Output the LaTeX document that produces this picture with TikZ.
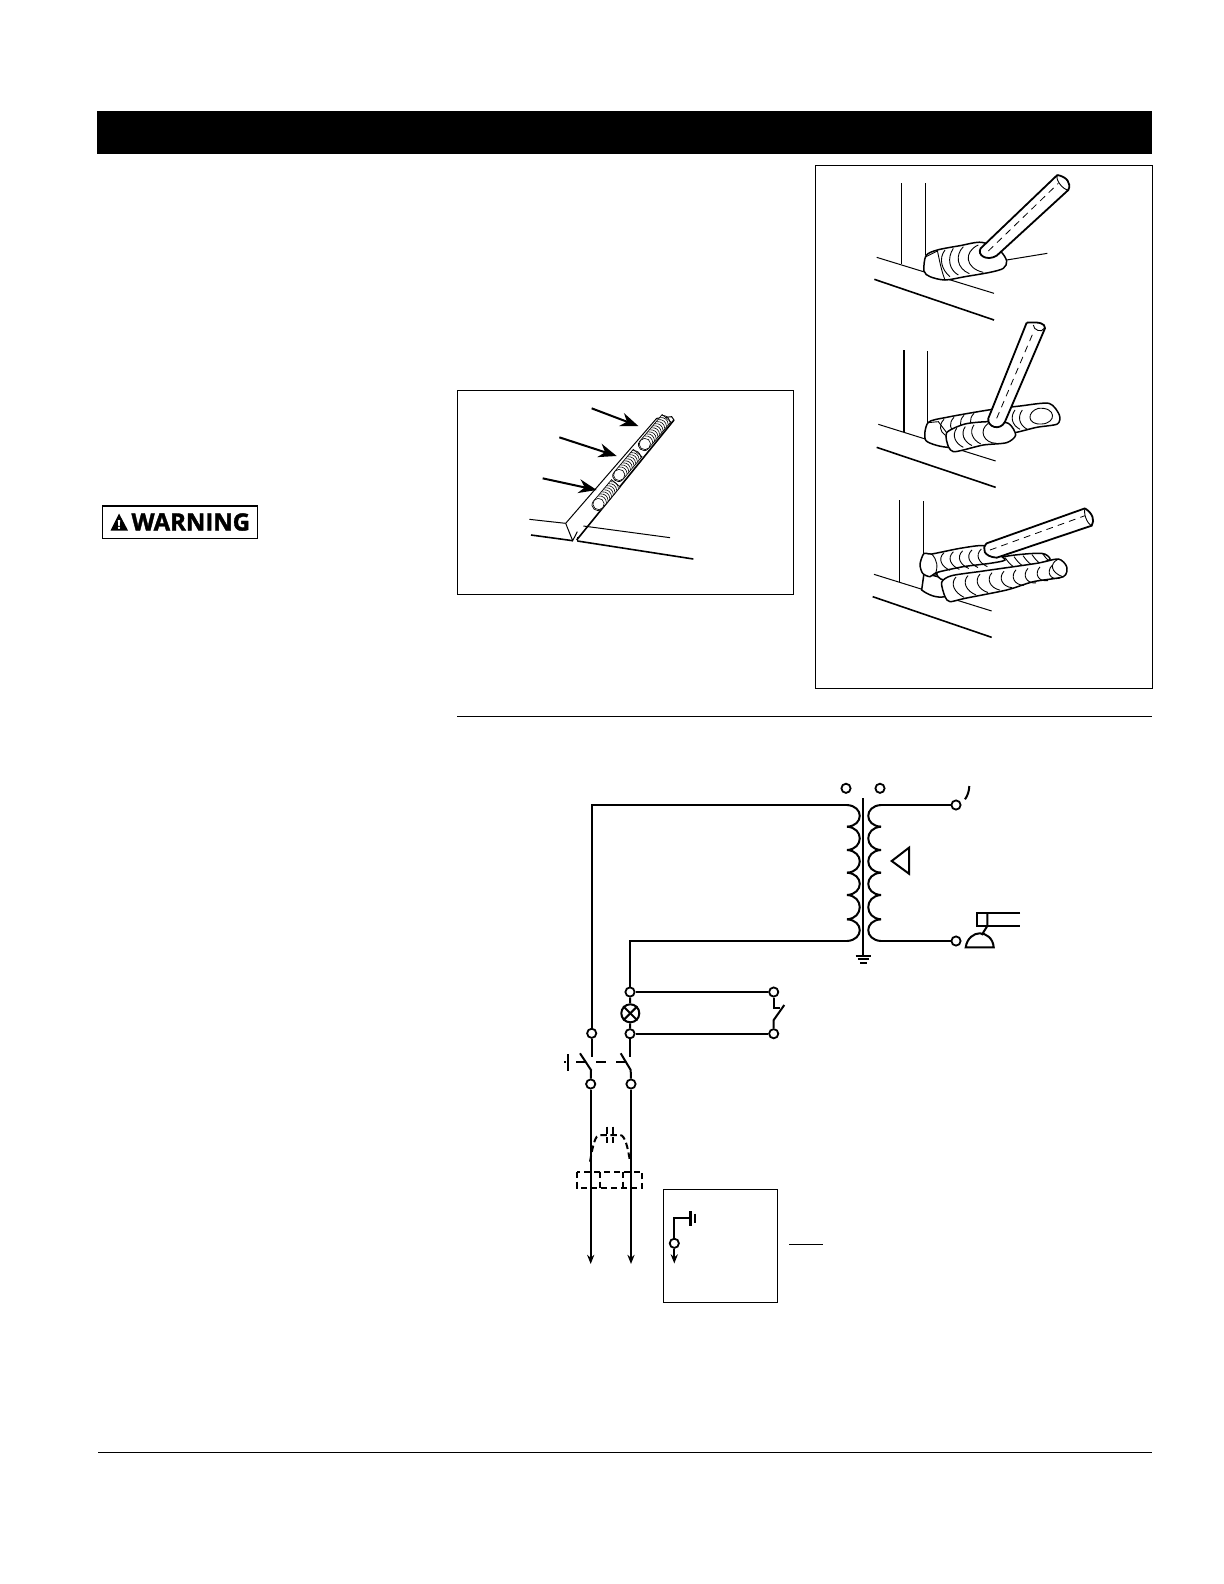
\documentclass[tikz,border=0pt]{standalone}
\usepackage{fontspec}
\setsansfont[BoldFeatures={FakeBold=1.6}]{Open Sans}
\usetikzlibrary{arrows.meta,positioning,calc}
\tikzset{
  every picture/.style={line width=0.5bp},
  wire/.style={line width=1bp},
  thinline/.style={line width=0.5bp},
  heavyline/.style={line width=0.8bp},
  dashwire/.style={line width=1bp, dash pattern=on 3.2bp off 1.8bp},
  terminal/.style={draw, circle, fill=white, line width=0.9bp, inner sep=0pt, minimum size=4.6bp},
  lamp/.style={draw, circle, fill=white, line width=1bp, inner sep=0pt, minimum size=9bp},
  frame/.style={draw, line width=0.5bp, minimum width=0pt},
  bead/.style={draw, fill=white, line width=0.75bp},
  stripbead/.style={draw, fill=white, line width=0.35bp},
  ripple/.style={line width=0.45bp},
  stripripple/.style={line width=0.3bp},
  rod/.style={draw, fill=white, line width=0.9bp},
  rodcore/.style={line width=0.4bp, dash pattern=on 3.4bp off 2.6bp},
  tiparrow/.style={-{Stealth[length=4.6bp,width=3.6bp]}, line width=1bp},
  bigarrow/.style={-{Stealth[length=9bp,width=7bp]}, line width=1bp}
}
% bead on the strip: centre, length
\newcommand{\StripBead}[3]{
  \begin{scope}[shift={(#1,#2)},rotate=50]
    \draw[stripbead] (0,-17) -- (#3,-17) -- (#3,17) -- (0,17) .. controls (-22,17) and (-22,-17) .. (0,-17);
    \foreach \i in {22,30,...,#3}
      \draw[stripripple] (\i,-16) .. controls (\i+10,-6) and (\i+10,6) .. (\i,16);
    \draw[stripripple, fill=white] (4,0) ellipse (17 and 17);
  \end{scope}
}
\begin{document}
\begin{tikzpicture}[x=0.5bp, y=-0.5bp]
  \useasboundingbox (0,0) rectangle (1224,1584);
  \fill[white] (0,0) rectangle (1224,1584);

  % page furniture
  \fill[black] (97,111) rectangle (1152.3,154);
  \draw[thinline] (457,716.5) -- (1152.3,716.5);
  \draw[thinline] (98,1452.3) -- (1152.3,1452.3);
  \draw[frame] (457.7,390) rectangle (793.3,594);
  \draw[frame] (815.5,165.5) rectangle (1152.3,688.3);

  % warning label
  \draw[line width=0.6bp] (102.3,506) rectangle (257.7,538.3);
  \fill[black] (110.5,530.5) -- (119,513.5) -- (128,530.5) -- cycle;
  \node[white, font=\sffamily\bfseries\fontsize{6}{6}\selectfont, inner sep=0pt] (warnmark) at (119,524.5) {!};
  \node[font=\sffamily\bfseries\fontsize{12}{12}\selectfont, inner sep=0pt, anchor=west] (warntext) at (131,522) {WARNING};

  % strip weld
  \begin{scope}[shift={(500,390)},scale=1/3]
    \draw[thinline] (88,388) -- (197,400);
    \draw[heavyline] (93,435) -- (218,452);
    \draw[thinline] (250,408) -- (510,443);
    \draw[heavyline] (232,453) -- (580,507);
    \draw[thinline] (197,400) -- (470,85) -- (515,80) -- (522,90);
    \draw[heavyline] (522,90) -- (230,450);
    \draw[thinline] (197,400) -- (218,452) -- (232,425);
    \draw[thinline] (232,453) -- (232,440);
    \StripBead{293}{345}{85}
    \StripBead{355}{258}{90}
    \StripBead{432}{165}{105}
    \draw[bigarrow] (275,55) -- (415,108);
    \draw[bigarrow] (178,142) -- (350,198);
    \draw[bigarrow] (128,265) -- (290,300);
  \end{scope}

  % first pass
  \begin{scope}[shift={(850,165)},scale=1/3]
    \draw[thinline] (155,55) -- (155,298);
    \draw[thinline] (226,55) -- (226,270);
    \draw[thinline] (80,277) -- (432,385);
    \draw[heavyline] (73,343) -- (432,465);
    \draw[thinline] (470,285) -- (592,265);
    \draw[bead] plot[smooth cycle, tension=.5] coordinates {(222,318) (228,272) (262,255) (330,242) (395,232) (450,258) (470,288) (460,310) (420,322) (345,335) (285,345) (240,335)};
    \draw[ripple] (262,256) .. controls (268,285) and (275,320) .. (285,345);
    \draw[ripple] (228,275) -- (262,258);
    \draw[ripple] (285,255) .. controls (265,280) and (275,315) .. (300,335);
    \draw[ripple] (310,250) .. controls (290,280) and (298,315) .. (325,330);
    \draw[ripple] (340,245) .. controls (315,270) and (320,310) .. (358,326);
    \draw[ripple] (385,240) .. controls (340,260) and (345,310) .. (400,322);
    \draw[rod] (622,30) -- (392,250) .. controls (380,270) and (410,290) .. (440,272) -- (655,75) .. controls (665,55) and (650,35) .. (622,30);
    \draw[ripple] (622,30) .. controls (615,45) and (640,75) .. (655,75);
    \draw[rodcore] (415,258) -- (625,55);
  \end{scope}

  % second pass
  \begin{scope}[shift={(850,310)},scale=1/3]
    \draw[heavyline] (162,120) -- (162,365);
    \draw[thinline] (232,123) -- (232,340);
    \draw[thinline] (85,343) -- (437,453);
    \draw[heavyline] (80,412) -- (437,532);
    \draw[bead] plot[smooth cycle, tension=.45] coordinates {(228,392) (234,338) (290,322) (415,300) (510,288) (597,280) (628,315) (622,342) (560,352) (495,368) (400,385) (300,412)};
    \foreach \i in {0,30,60,90}
      \draw[ripple] (282+\i,328-\i*.2) .. controls (265+\i,345-\i*.2) and (270+\i,365-\i*.2) .. (285+\i,375-\i*.2);
    \foreach \i in {0,22}
      \draw[ripple] (495+\i,300) .. controls (480+\i,320) and (485+\i,345) .. (510+\i,358);
    \draw[ripple] (565,295) .. controls (530,305) and (530,345) .. (575,342) .. controls (620,340) and (620,290) .. (565,295);
    \draw[ripple] (234,338) -- (265,335) -- (290,368);
    \draw[bead] plot[smooth cycle, tension=.45] coordinates {(290,368) (345,342) (415,335) (475,340) (497,375) (470,398) (400,405) (340,420) (310,425) (295,410)};
    \foreach \i in {0,26,52}
      \draw[ripple] (320+\i,355-\i*.2) .. controls (305+\i,375-\i*.2) and (315+\i,400-\i*.2) .. (340+\i,412-\i*.2);
    \draw[ripple] (415,340) .. controls (385,360) and (400,400) .. (440,400);
    \draw[rod] (530,38) -- (415,325) .. controls (410,350) and (450,365) .. (465,335) -- (585,55) .. controls (585,40) and (570,35) .. (530,38);
    \draw[ripple] (550,45) .. controls (550,60) and (575,70) .. (583,55);
    \draw[rodcore] (440,325) -- (553,60);
  \end{scope}

  % third pass
  \begin{scope}[shift={(850,485)},scale=1/3]
    \draw[thinline] (148,45) -- (148,290);
    \draw[thinline] (220,48) -- (220,210);
    \draw[thinline] (72,268) -- (425,378);
    \draw[heavyline] (68,335) -- (425,457);
    \draw[bead] (222,265) -- (215,315) .. controls (235,330) and (260,340) .. (285,335) -- (285,280) -- cycle;
    \draw[bead] plot[smooth cycle, tension=.45] coordinates {(262,262) (340,240) (480,212) (575,205) (600,222) (570,235) (480,255) (350,275) (280,285)};
    \foreach \i in {0,30,60,90,125}
      \draw[ripple] (465+\i*.9,218-\i*.1) .. controls (472+\i*.9,228-\i*.1) and (478+\i*.9,236-\i*.1) .. (490+\i*.9,245-\i*.1);
    \draw[bead] plot[smooth cycle, tension=.45] coordinates {(275,292) (305,272) (400,258) (560,235) (625,222) (650,245) (640,275) (550,290) (470,315) (345,340) (300,350) (285,335)};
    \foreach \i in {0,36,72,108,144,180,216,252,288}
      \draw[ripple] (318+\i,276-\i*.12) .. controls (300+\i,295-\i*.12) and (312+\i,322-\i*.12) .. (342+\i,337-\i*.2);
    \draw[ripple] (622,224) .. controls (600,235) and (600,262) .. (640,276);
    \draw[bead] plot[smooth cycle, tension=.45] coordinates {(222,205) (245,207) (330,190) (400,182) (440,205) (465,225) (420,235) (340,245) (262,262) (240,275) (218,265) (210,238)};
    \draw[ripple] (245,207) .. controls (262,225) and (265,245) .. (255,270);
    \foreach \i in {0,28,56,84,112}
      \draw[ripple] (282+\i,203-\i*.1) .. controls (262+\i,222-\i*.1) and (275+\i,245-\i*.1) .. (300+\i,256-\i*.1);
    \draw[rod] (705,70) -- (410,175) .. controls (395,190) and (400,215) .. (440,218) -- (725,122) .. controls (735,105) and (728,85) .. (705,70);
    \draw[ripple] (705,70) .. controls (700,85) and (710,115) .. (725,122);
    \draw[rodcore] (420,195) -- (705,92);
  \end{scope}

  % transformer
  \coordinate (pa) at (848,805);
  \coordinate (pb) at (848,941);
  \coordinate (sa) at (880,805);
  \coordinate (sb) at (880,941);
  \node[terminal] (oa) at (846,788.3) {};
  \node[terminal] (ob) at (880,788.3) {};
  \node[terminal] (out1) at (956,805) {};
  \node[terminal] (out2) at (956,941) {};
  \foreach \a/\b in {805/826.7,826.7/850,850/872.7,872.7/895,895/919.3,919.3/941} {
    \draw[wire] (847,\a) .. controls (864,\a+1) and (864,\b-1) .. (847,\b);
    \draw[wire] (881,\a) .. controls (864,\a+1) and (864,\b-1) .. (881,\b);
  }
  \draw[wire] (862.7,798.3) -- (862.7,955.7);
  \draw[wire] (855.7,955.7) -- (871,955.7);
  \draw[wire] (857.7,959.3) -- (869,959.3);
  \draw[wire] (860,963) -- (866.7,963);
  \draw[wire] (sa) -- (out1);
  \draw[wire] (sb) -- (out2);
  \draw[wire] (965,799.3) .. controls (968,795) and (969,791) .. (969.3,786);
  \draw[wire, line join=miter] (891.7,861) -- (909,847.7) -- (909,873.7) -- cycle;

  % torch
  \draw[wire] (1020,912.7) -- (976.7,912.7) -- (976.7,926) -- (1020,926);
  \draw[wire] (987.3,912.7) -- (987.3,926) -- (981.7,935);
  \draw[wire] (965.7,947.3) .. controls (967,938) and (974,933.3) .. (979.7,933.3) .. controls (986,933.3) and (993,938) .. (993.7,947.3) -- cycle;

  % mains side
  \node[terminal] (la) at (591.7,1033.3) {};
  \node[terminal] (lb) at (630,992) {};
  \node[terminal] (lc) at (630,1033.7) {};
  \node[terminal] (ra) at (773.7,992) {};
  \node[terminal] (rb) at (773.7,1033.7) {};
  \node[terminal] (qa) at (590.7,1084) {};
  \node[terminal] (qb) at (631,1084) {};
  \node[lamp] (bulb) at (630.3,1013.3) {};
  \draw[wire] (bulb.45) -- (bulb.225);
  \draw[wire] (bulb.135) -- (bulb.315);
  \draw[wire] (la) |- (pa);
  \draw[wire] (lb) |- (pb);
  \draw[wire] (lb) -- (bulb);
  \draw[wire] (bulb) -- (lc);
  \draw[wire] (lb) -- (ra);
  \draw[wire] (lc) -- (rb);
  \draw[wire] (ra) -- (773.7,1008) -- (780,1008);
  \draw[wire] (784.3,1005) -- (773.7,1020) -- (rb);

  % disconnect
  \coordinate (da) at (591.7,1056.5);
  \coordinate (db) at (630,1056.5);
  \draw[wire] (la) -- (da);
  \draw[wire] (lc) -- (db);
  \draw[wire] (580,1053.3) -- (591,1070) -- (qa);
  \draw[wire] (620.7,1053.3) -- (630.7,1070) -- (qb);
  \draw[wire] (576,1061.7) -- (585,1061.7);
  \draw[wire] (596,1061.7) -- (606,1061.7);
  \draw[wire] (616,1061.7) -- (625,1061.7);
  \draw[wire] (567.7,1054) -- (567.7,1070.7);
  \draw[wire] (564,1061.7) -- (566,1061.7);

  % load lines
  \coordinate (ea) at (590.7,1264);
  \coordinate (eb) at (631,1264);
  \draw[tiparrow] (qa) -- (ea);
  \draw[tiparrow] (qb) -- (eb);

  % breaker sketch
  \draw[dashwire] (590,1161.7) .. controls (593,1145) and (595,1135) .. (600,1135) -- (620,1135) .. controls (625,1135) and (628,1148) .. (630,1161.7);
  \draw[wire] (607.3,1126.7) -- (607.3,1134);
  \draw[wire] (607.3,1137) -- (607.3,1143.3);
  \draw[wire] (612.7,1126.7) -- (612.7,1134);
  \draw[wire] (612.7,1137) -- (612.7,1143.3);
  \draw[dashwire] (577.3,1171.7) rectangle (642.3,1188);
  \draw[dashwire] (600,1171.7) -- (600,1188);
  \draw[dashwire] (622.7,1171.7) -- (622.7,1188);

  % inset
  \draw[line width=0.55bp] (663.3,1189.3) rectangle (777.3,1302.5);
  \node[terminal] (ga) at (674.3,1243.3) {};
  \coordinate (gb) at (690,1217.7);
  \coordinate (gc) at (674.3,1263.5);
  \draw[wire] (ga) |- (gb);
  \draw[tiparrow] (ga) -- (gc);
  \draw[line width=1.6bp] (690.5,1211) -- (690.5,1226);
  \draw[line width=.9bp] (695,1213.5) -- (695,1223);
  \draw[thinline] (789.3,1244.3) -- (822.7,1244.3);
\end{tikzpicture}
\end{document}
